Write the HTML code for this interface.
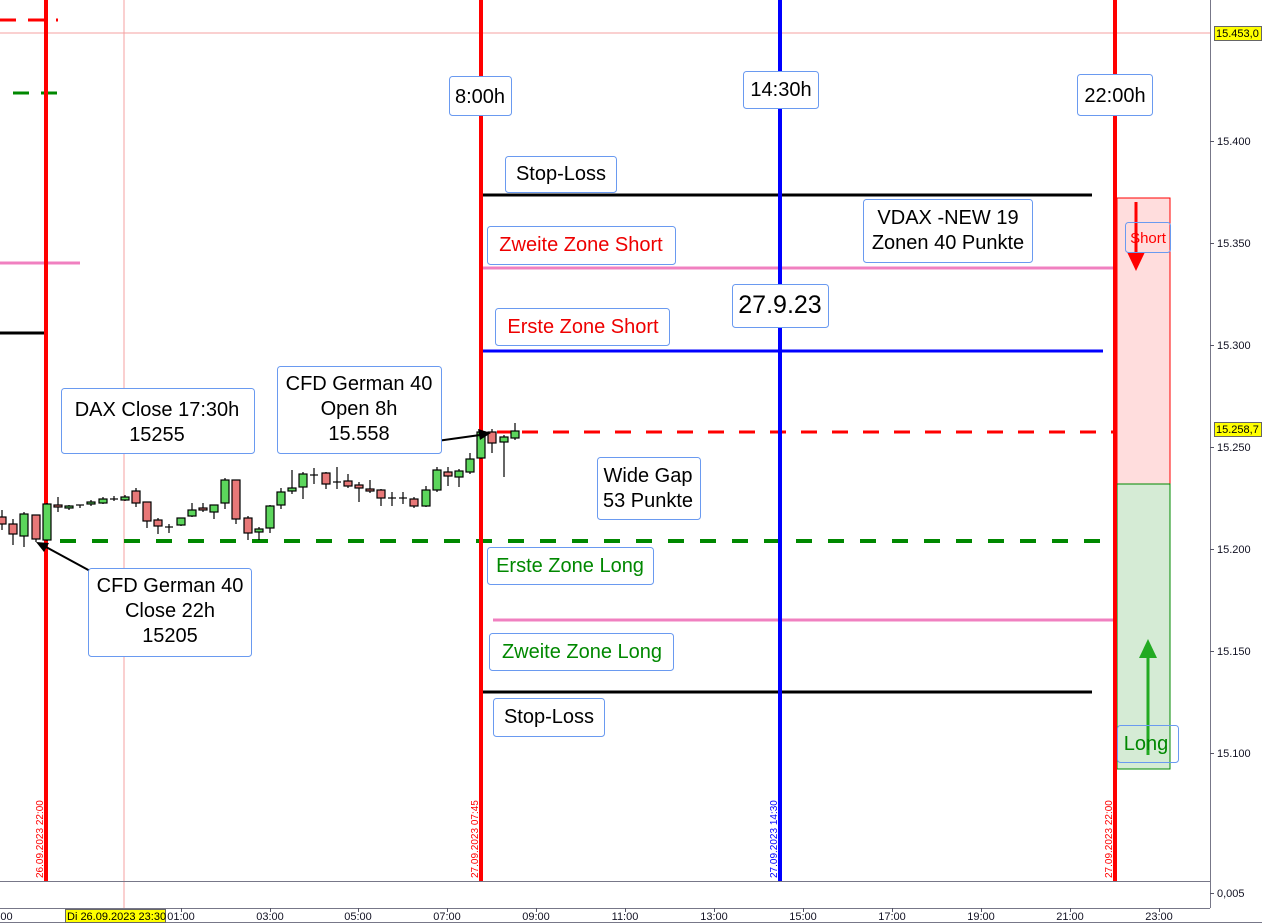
<!DOCTYPE html>
<html><head><meta charset="utf-8"><style>
body{margin:0;background:#fff;}
svg{display:block;font-family:"Liberation Sans",Arial,sans-serif;}
</style></head><body>
<svg width="1262" height="924" viewBox="0 0 1262 924" xmlns="http://www.w3.org/2000/svg">
<rect width="1262" height="924" fill="#fff"/>
<line x1="0" y1="33" x2="1210" y2="33" stroke="#f4a0a0" stroke-width="1"/>
<line x1="124" y1="0" x2="124" y2="908" stroke="#f4a0a0" stroke-width="1"/>
<line x1="0" y1="20" x2="58" y2="20" stroke="#f00" stroke-width="3" stroke-dasharray="16,12"/>
<line x1="13" y1="93" x2="58" y2="93" stroke="#080" stroke-width="3" stroke-dasharray="16,12"/>
<line x1="0" y1="263" x2="80" y2="263" stroke="#f080c0" stroke-width="3"/>
<line x1="0" y1="333" x2="45" y2="333" stroke="#000" stroke-width="3"/>
<line x1="483" y1="195" x2="1092" y2="195" stroke="#000" stroke-width="3"/>
<line x1="483" y1="268" x2="1127" y2="268" stroke="#f080c0" stroke-width="3"/>
<line x1="483" y1="351" x2="1103" y2="351" stroke="#00f" stroke-width="3"/>
<line x1="522" y1="432" x2="1150" y2="432" stroke="#f00" stroke-width="3" stroke-dasharray="16,15"/>
<line x1="60" y1="541" x2="1100" y2="541" stroke="#080" stroke-width="4" stroke-dasharray="16,16"/>
<line x1="493" y1="620" x2="1115" y2="620" stroke="#f080c0" stroke-width="3"/>
<line x1="483" y1="692" x2="1092" y2="692" stroke="#000" stroke-width="3"/>
<line x1="497" y1="432" x2="518" y2="432" stroke="#f00" stroke-width="3"/>
<rect x="1117" y="198" width="53" height="286" fill="#fdd" stroke="#f00" stroke-width="1"/>
<rect x="1117" y="484" width="53" height="285" fill="#d5ebd5" stroke="#080" stroke-width="1"/>
<line x1="46" y1="0" x2="46" y2="881" stroke="#f00" stroke-width="4"/>
<line x1="481" y1="0" x2="481" y2="881" stroke="#f00" stroke-width="4"/>
<line x1="780" y1="0" x2="780" y2="881" stroke="#00f" stroke-width="4"/>
<line x1="1115" y1="0" x2="1115" y2="881" stroke="#f00" stroke-width="4"/>
<g stroke="#000" stroke-width="1.2">
<line x1="2" y1="510" x2="2" y2="530"/><rect x="-2" y="517" width="8" height="7" fill="#e87878"/>
<line x1="13" y1="519" x2="13" y2="545"/><rect x="9" y="524" width="8" height="10" fill="#e87878"/>
<line x1="24" y1="512" x2="24" y2="547"/><rect x="20" y="514" width="8" height="22" fill="#5cd65c"/>
<line x1="36" y1="515" x2="36" y2="542"/><rect x="32" y="515" width="8" height="24" fill="#e87878"/>
<line x1="47" y1="503" x2="47" y2="541"/><rect x="43" y="504" width="8" height="36" fill="#5cd65c"/>
<line x1="58" y1="497" x2="58" y2="512"/><rect x="54" y="505" width="8" height="2" fill="#e87878"/>
<line x1="69" y1="505" x2="69" y2="510"/><rect x="65" y="506" width="8" height="2" fill="#5cd65c"/>
<line x1="80" y1="505" x2="80" y2="508"/><line x1="76" y1="505" x2="84" y2="505"/>
<line x1="91" y1="500" x2="91" y2="506"/><rect x="87" y="502" width="8" height="2" fill="#5cd65c"/>
<line x1="103" y1="497" x2="103" y2="504"/><rect x="99" y="499" width="8" height="4" fill="#5cd65c"/>
<line x1="114" y1="496" x2="114" y2="501"/><line x1="110" y1="499" x2="118" y2="499"/>
<line x1="125" y1="495" x2="125" y2="501"/><rect x="121" y="497" width="8" height="3" fill="#5cd65c"/>
<line x1="136" y1="488" x2="136" y2="507"/><rect x="132" y="491" width="8" height="12" fill="#e87878"/>
<line x1="147" y1="502" x2="147" y2="528"/><rect x="143" y="502" width="8" height="19" fill="#e87878"/>
<line x1="158" y1="518" x2="158" y2="534"/><rect x="154" y="520" width="8" height="6" fill="#e87878"/>
<line x1="169" y1="524" x2="169" y2="533"/><line x1="165" y1="527" x2="173" y2="527"/>
<line x1="181" y1="518" x2="181" y2="526"/><rect x="177" y="518" width="8" height="7" fill="#5cd65c"/>
<line x1="192" y1="503" x2="192" y2="517"/><rect x="188" y="510" width="8" height="6" fill="#5cd65c"/>
<line x1="203" y1="503" x2="203" y2="512"/><rect x="199" y="508" width="8" height="2" fill="#e87878"/>
<line x1="214" y1="505" x2="214" y2="519"/><rect x="210" y="505" width="8" height="7" fill="#5cd65c"/>
<line x1="225" y1="478" x2="225" y2="509"/><rect x="221" y="480" width="8" height="23" fill="#5cd65c"/>
<line x1="236" y1="480" x2="236" y2="524"/><rect x="232" y="480" width="8" height="39" fill="#e87878"/>
<line x1="248" y1="516" x2="248" y2="540"/><rect x="244" y="518" width="8" height="15" fill="#e87878"/>
<line x1="259" y1="527" x2="259" y2="540"/><rect x="255" y="529" width="8" height="3" fill="#5cd65c"/>
<line x1="270" y1="505" x2="270" y2="533"/><rect x="266" y="506" width="8" height="22" fill="#5cd65c"/>
<line x1="281" y1="488" x2="281" y2="509"/><rect x="277" y="492" width="8" height="13" fill="#5cd65c"/>
<line x1="292" y1="470" x2="292" y2="494"/><rect x="288" y="488" width="8" height="3" fill="#5cd65c"/>
<line x1="303" y1="472" x2="303" y2="499"/><rect x="299" y="474" width="8" height="13" fill="#5cd65c"/>
<line x1="314" y1="468" x2="314" y2="484"/><line x1="310" y1="475" x2="318" y2="475"/>
<line x1="326" y1="472" x2="326" y2="489"/><rect x="322" y="473" width="8" height="11" fill="#e87878"/>
<line x1="337" y1="467" x2="337" y2="489"/><line x1="333" y1="482" x2="341" y2="482"/>
<line x1="348" y1="474" x2="348" y2="488"/><rect x="344" y="481" width="8" height="5" fill="#e87878"/>
<line x1="359" y1="482" x2="359" y2="502"/><rect x="355" y="485" width="8" height="3" fill="#e87878"/>
<line x1="370" y1="480" x2="370" y2="493"/><rect x="366" y="489" width="8" height="2" fill="#e87878"/>
<line x1="381" y1="489" x2="381" y2="506"/><rect x="377" y="490" width="8" height="8" fill="#e87878"/>
<line x1="392" y1="492" x2="392" y2="506"/><line x1="388" y1="498" x2="396" y2="498"/>
<line x1="403" y1="492" x2="403" y2="504"/><line x1="399" y1="498" x2="407" y2="498"/>
<line x1="414" y1="497" x2="414" y2="508"/><rect x="410" y="499" width="8" height="7" fill="#e87878"/>
<line x1="426" y1="486" x2="426" y2="507"/><rect x="422" y="490" width="8" height="16" fill="#5cd65c"/>
<line x1="437" y1="467" x2="437" y2="492"/><rect x="433" y="470" width="8" height="20" fill="#5cd65c"/>
<line x1="448" y1="467" x2="448" y2="486"/><rect x="444" y="472" width="8" height="4" fill="#e87878"/>
<line x1="459" y1="469" x2="459" y2="487"/><rect x="455" y="471" width="8" height="6" fill="#5cd65c"/>
<line x1="470" y1="453" x2="470" y2="474"/><rect x="466" y="459" width="8" height="13" fill="#5cd65c"/>
<line x1="481" y1="430" x2="481" y2="459"/><rect x="477" y="432" width="8" height="26" fill="#5cd65c"/>
<line x1="492" y1="429" x2="492" y2="453"/><rect x="488" y="432" width="8" height="11" fill="#e87878"/>
<line x1="504" y1="435" x2="504" y2="477"/><rect x="500" y="437" width="8" height="5" fill="#5cd65c"/>
<line x1="515" y1="423" x2="515" y2="440"/><rect x="511" y="431" width="8" height="7" fill="#5cd65c"/>
</g>
<line x1="437" y1="441" x2="480" y2="435" stroke="#000" stroke-width="2"/>
<polygon points="491,433 478,429 480,440" fill="#000"/>
<line x1="92" y1="572" x2="46" y2="547" stroke="#000" stroke-width="2"/>
<polygon points="36,542 49,543 44,552" fill="#000"/>
<line x1="1136" y1="202" x2="1136" y2="255" stroke="#f00" stroke-width="3"/>
<polygon points="1127,252 1145,252 1136,271" fill="#f00"/>
<line x1="1148" y1="755" x2="1148" y2="655" stroke="#2a2" stroke-width="3"/>
<polygon points="1139,658 1157,658 1148,639" fill="#2a2"/>
<g fill="#fff" stroke="#6a9af0" stroke-width="1">
<rect x="449.5" y="76.5" width="62" height="39" rx="3"/>
<rect x="743.5" y="71.5" width="75" height="37" rx="3"/>
<rect x="1077.5" y="74.5" width="75" height="41" rx="3"/>
<rect x="505.5" y="156.5" width="111" height="36" rx="3"/>
<rect x="863.5" y="199.5" width="169" height="63" rx="3"/>
<rect x="487.5" y="226.5" width="188" height="38" rx="3"/>
<rect x="732.5" y="284.5" width="96" height="43" rx="3"/>
<rect x="495.5" y="308.5" width="174" height="37" rx="3"/>
<rect x="61.5" y="388.5" width="193" height="65" rx="3"/>
<rect x="277.5" y="366.5" width="164" height="87" rx="3"/>
<rect x="597.5" y="457.5" width="103" height="62" rx="3"/>
<rect x="88.5" y="568.5" width="163" height="88" rx="3"/>
<rect x="487.5" y="547.5" width="166" height="37" rx="3"/>
<rect x="489.5" y="633.5" width="184" height="37" rx="3"/>
<rect x="493.5" y="698.5" width="111" height="38" rx="3"/>
</g>
<rect x="1125.5" y="222.5" width="45" height="30" rx="3" fill="none" stroke="#6a9af0"/>
<rect x="1117.5" y="725.5" width="61" height="37" rx="3" fill="none" stroke="#6a9af0"/>
<g font-size="20" text-anchor="middle" fill="#000">
<text x="480" y="103">8:00h</text>
<text x="781" y="96">14:30h</text>
<text x="1115" y="102">22:00h</text>
<text x="561" y="180">Stop-Loss</text>
<text x="948" y="224">VDAX -NEW 19</text>
<text x="948" y="249">Zonen 40 Punkte</text>
<text x="581" y="251" fill="#e00">Zweite Zone Short</text>
<text x="780" y="313" font-size="25">27.9.23</text>
<text x="583" y="333" fill="#e00">Erste Zone Short</text>
<text x="157" y="416">DAX Close 17:30h</text>
<text x="157" y="441">15255</text>
<text x="359" y="390">CFD German 40</text>
<text x="359" y="415">Open 8h</text>
<text x="359" y="440">15.558</text>
<text x="648" y="482">Wide Gap</text>
<text x="648" y="507">53 Punkte</text>
<text x="170" y="592">CFD German 40</text>
<text x="170" y="617">Close 22h</text>
<text x="170" y="642">15205</text>
<text x="570" y="572" fill="#080">Erste Zone Long</text>
<text x="582" y="658" fill="#080">Zweite Zone Long</text>
<text x="549" y="723">Stop-Loss</text>
<text x="1148" y="243" font-size="15" fill="#f00">Short</text>
<text x="1146" y="750" fill="#080">Long</text>
</g>
<g font-size="10">
<text transform="translate(43,878) rotate(-90)" fill="#f00">26.09.2023 22:00</text>
<text transform="translate(478,878) rotate(-90)" fill="#f00">27.09.2023 07:45</text>
<text transform="translate(777,878) rotate(-90)" fill="#00f">27.09.2023 14:30</text>
<text transform="translate(1112,878) rotate(-90)" fill="#f00">27.09.2023 22:00</text>
</g>
<line x1="0" y1="881.5" x2="1210" y2="881.5" stroke="#778" stroke-width="1"/>
<line x1="0" y1="908.5" x2="1210" y2="908.5" stroke="#778" stroke-width="1"/>
<line x1="0" y1="922.5" x2="1262" y2="922.5" stroke="#778" stroke-width="1"/>
<line x1="1210.5" y1="0" x2="1210.5" y2="908" stroke="#778" stroke-width="1"/>
<g stroke="#556" stroke-width="1">
<line x1="1210" y1="141.5" x2="1214" y2="141.5"/><line x1="1210" y1="243.5" x2="1214" y2="243.5"/>
<line x1="1210" y1="345.5" x2="1214" y2="345.5"/><line x1="1210" y1="447.5" x2="1214" y2="447.5"/>
<line x1="1210" y1="549.5" x2="1214" y2="549.5"/><line x1="1210" y1="651.5" x2="1214" y2="651.5"/>
<line x1="1210" y1="753.5" x2="1214" y2="753.5"/><line x1="1210" y1="893.5" x2="1214" y2="893.5"/>
</g>
<g font-size="11" fill="#112">
<text x="1217" y="145">15.400</text><text x="1217" y="247">15.350</text>
<text x="1217" y="349">15.300</text><text x="1217" y="451">15.250</text>
<text x="1217" y="553">15.200</text><text x="1217" y="655">15.150</text>
<text x="1217" y="757">15.100</text><text x="1217" y="897">0,005</text>
</g>
<rect x="1214.5" y="26.5" width="47" height="14" fill="#ff0" stroke="#666"/>
<text x="1216" y="37" font-size="11">15.453,0</text>
<rect x="1214.5" y="422.5" width="47" height="14" fill="#ff0" stroke="#666"/>
<text x="1216" y="433" font-size="11">15.258,7</text>
<g stroke="#556" stroke-width="1">
<line x1="181.5" y1="908" x2="181.5" y2="912"/><line x1="270.5" y1="908" x2="270.5" y2="912"/>
<line x1="358.5" y1="908" x2="358.5" y2="912"/><line x1="447.5" y1="908" x2="447.5" y2="912"/>
<line x1="536.5" y1="908" x2="536.5" y2="912"/><line x1="625.5" y1="908" x2="625.5" y2="912"/>
<line x1="714.5" y1="908" x2="714.5" y2="912"/><line x1="803.5" y1="908" x2="803.5" y2="912"/>
<line x1="892.5" y1="908" x2="892.5" y2="912"/><line x1="981.5" y1="908" x2="981.5" y2="912"/>
<line x1="1070.5" y1="908" x2="1070.5" y2="912"/><line x1="1159.5" y1="908" x2="1159.5" y2="912"/>
</g>
<g font-size="11" fill="#112" text-anchor="middle">
<text x="5" y="920">:00</text>
<text x="181" y="920">01:00</text><text x="270" y="920">03:00</text>
<text x="358" y="920">05:00</text><text x="447" y="920">07:00</text>
<text x="536" y="920">09:00</text><text x="625" y="920">11:00</text>
<text x="714" y="920">13:00</text><text x="803" y="920">15:00</text>
<text x="892" y="920">17:00</text><text x="981" y="920">19:00</text>
<text x="1070" y="920">21:00</text><text x="1159" y="920">23:00</text>
</g>
<rect x="65.5" y="909.5" width="100" height="13" fill="#ff0" stroke="#666"/>
<text x="67" y="920" font-size="11">Di 26.09.2023 23:30</text>
</svg>
</body></html>
